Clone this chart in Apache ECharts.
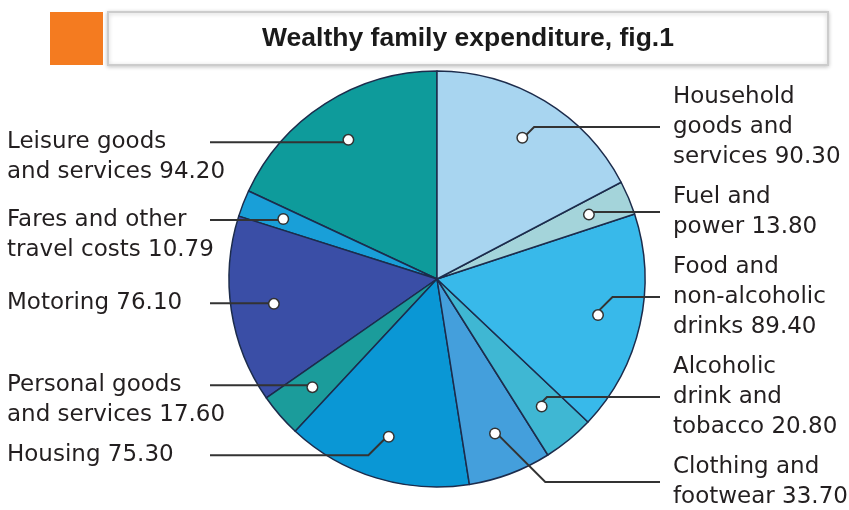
<!DOCTYPE html>
<html>
<head>
<meta charset="utf-8">
<title>Wealthy family expenditure</title>
<script src="https://cdn.jsdelivr.net/npm/echarts@6/dist/echarts.min.js"></script>
<style>
  html, body { margin: 0; padding: 0; background: #fff; }
  #chart { width: 849px; height: 510px; }
</style>
</head>
<body>
<div id="chart"></div>
<script>
// slices listed counter-clockwise, starting at 12 o'clock
const categories = [
  "Leisure goods\nand services",
  "Fares and other\ntravel costs",
  "Motoring",
  "Personal goods\nand services",
  "Housing",
  "Clothing and\nfootwear",
  "Alcoholic\ndrink and\ntobacco",
  "Food and\nnon-alcoholic\ndrinks",
  "Fuel and\npower",
  "Household\ngoods and\nservices"
];
const values = [94.20, 10.79, 76.10, 17.60, 75.30, 33.70, 20.80, 89.40, 13.80, 90.30];
const sliceColors = [
  "#0e9b9b", "#199fd8", "#3a4ea6", "#1b9c9b", "#0a97d5",
  "#449fdc", "#3fb7d3", "#38b9ea", "#a4d4da", "#a8d5f0"
];
const titleText = "Wealthy family expenditure, fig.1";

const chart = echarts.init(document.getElementById("chart"));

const pieData = categories.map(function (name, i) {
  return { name: name, value: values[i] };
});

const center = [437, 279];
const lineH = 30;
const boxW = 190;      // label box width
const lineGap = 13;    // space between line end and text
const labelGap = 10;   // space between stacked labels
const bottomLimit = 512;
const labelFont = "'DejaVu Sans', sans-serif";
const titleFont = "'Liberation Sans', Arial, sans-serif";

// pass 1 records where echarts put each label
const labelInfo = {};
function recordLabels(params) {
  labelInfo[params.dataIndex] = {
    pts: params.labelLinePoints,
    rect: params.labelRect,
    lines: String(params.text).split("\n").length
  };
  return {};
}

// pass 2: stack each side without overlaps, line ends lined up;
// left labels hang from their first line, right ones are centred on it
function placeSide(items, isLeft, placed) {
  items.sort(function (a, b) { return a.pts[0][1] - b.pts[0][1]; });
  const tops = [];
  let bottom = -Infinity;
  items.forEach(function (d, i) {
    const h = d.lines * lineH;
    const anchor = isLeft ? lineH / 2 : h / 2;
    tops[i] = Math.max(d.pts[0][1] - anchor, bottom + labelGap);
    bottom = tops[i] + h;
  });
  let limit = bottomLimit;
  for (let i = items.length - 1; i >= 0; i--) {
    const h = items[i].lines * lineH;
    tops[i] = Math.min(tops[i], limit - h);
    limit = tops[i] - labelGap;
  }
  items.forEach(function (d, i) {
    const h = d.lines * lineH;
    const y = tops[i] + (isLeft ? lineH / 2 : h / 2);
    const pts = d.pts.map(function (p) { return p.slice(); });
    const dir = isLeft ? -1 : 1;
    pts[2][0] = isLeft ? d.rect.x + boxW + lineGap : d.rect.x - lineGap;
    pts[2][1] = y;
    pts[1][1] = y;
    pts[1][0] = pts[0][0] + dir * Math.abs(y - pts[0][1]);
    if (dir * (pts[1][0] - pts[2][0]) > 0) pts[1][0] = pts[2][0];
    placed[d.idx] = { y: tops[i] + h / 2, labelLinePoints: pts };
  });
}

function placeLabels() {
  const items = Object.keys(labelInfo)
    .map(function (k) { return Object.assign({ idx: +k }, labelInfo[k]); })
    .filter(function (d) { return d.pts; });
  const placed = {};
  placeSide(items.filter(function (d) { return d.pts[2][0] < center[0]; }), true, placed);
  placeSide(items.filter(function (d) { return d.pts[2][0] >= center[0]; }), false, placed);
  return placed;
}

const common = {
  type: "pie",
  center: center,
  clockwise: false,
  startAngle: 90,
  silent: true,
  animation: false,
  left: 0,
  top: 0,
  width: 870,
  height: 530,
  emphasis: { disabled: true }
};

const option = {
  backgroundColor: "#fff",
  color: sliceColors,
  title: {
    text: titleText,
    left: 468,
    top: 25,
    padding: 0,
    textAlign: "center",
    textStyle: {
      fontFamily: titleFont,
      fontSize: 26.5,
      fontWeight: "bold",
      color: "#1a1a1a"
    }
  },
  graphic: [
    {
      type: "rect",
      z: -1,
      shape: { x: 108, y: 12, width: 720, height: 53 },
      style: {
        fill: "#fff",
        stroke: "#cccccc",
        lineWidth: 2,
        shadowBlur: 4,
        shadowColor: "rgba(0,0,0,0.2)",
        shadowOffsetY: 1
      }
    },
    {
      type: "rect",
      z: -1,
      shape: { x: 50, y: 12, width: 53, height: 53 },
      style: { fill: "#f47b20" }
    }
  ],
  series: [
    Object.assign({}, common, {
      name: "slices",
      z: 2,
      radius: [0, 208],
      data: pieData,
      label: { show: false },
      labelLine: { show: false },
      itemStyle: { borderColor: "#1c2c4c", borderWidth: 1.5 }
    }),
    Object.assign({}, common, {
      name: "labels",
      z: 3,
      radius: [0, 162],
      data: pieData,
      itemStyle: { color: "rgba(0,0,0,0)", borderWidth: 0 },
      avoidLabelOverlap: true,
      label: {
        show: true,
        position: "outside",
        alignTo: "edge",
        edgeDistance: 7,
        distanceToLabelLine: lineGap,
        width: boxW,
        overflow: "none",
        formatter: function (p) {
          return "{t|" + p.name + " " + p.value.toFixed(2) + "}";
        },
        rich: {
          t: {
            fontFamily: labelFont,
            fontSize: 23,
            lineHeight: lineH,
            color: "#231f20",
            align: "left"
          }
        }
      },
      labelLine: {
        show: true,
        length: 2,
        length2: 40,
        lineStyle: { color: "#333", width: 2 }
      },
      labelLayout: recordLabels
    }),
    Object.assign({}, common, {
      name: "markers",
      z: 4,
      radius: [116, 208],
      data: pieData,
      itemStyle: { color: "rgba(0,0,0,0)", borderWidth: 0 },
      label: {
        show: true,
        position: "inside",
        formatter: "{c|}",
        rich: {
          c: {
            width: 9,
            height: 9,
            borderRadius: 6,
            backgroundColor: "#fff",
            borderColor: "#333",
            borderWidth: 1.5
          }
        }
      },
      labelLine: { show: false }
    })
  ]
};

chart.setOption(option);

const placed = placeLabels();
chart.setOption({
  series: [{}, {
    labelLayout: function (params) {
      return placed[params.dataIndex] || {};
    }
  }, {}]
});
</script>
</body>
</html>
